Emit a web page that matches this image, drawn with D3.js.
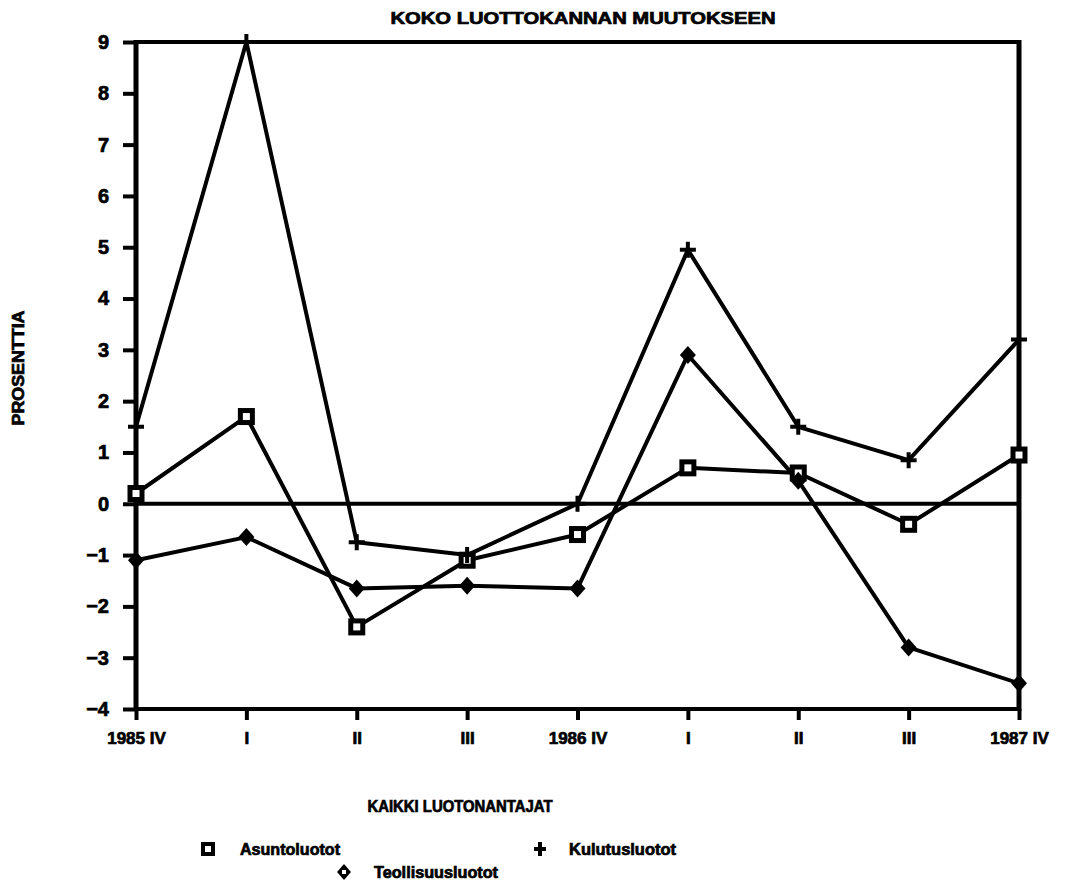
<!DOCTYPE html>
<html>
<head>
<meta charset="utf-8">
<script src="https://cdn.jsdelivr.net/npm/d3@7"></script>
<style>
  body { margin: 0; background: #fff; }
  text { font-family: "Liberation Sans", Arial, sans-serif; font-weight: bold; fill: #000; stroke: #000; stroke-width: 0.7px; }
</style>
</head>
<body>
<div id="chart"></div>
<script>
// Quarter labels along the x axis
var quarters = ["1985 IV", "I", "II", "III", "1986 IV", "I", "II", "III", "1987 IV"];
// Series values (percent)
var asuntoluotot = [0.2, 1.7, -2.4, -1.1, -0.6, 0.7, 0.6, -0.4, 0.95];
var kulutusluotot = [1.5, 9.0, -0.75, -1.0, 0.0, 4.95, 1.5, 0.85, 3.2];
var teollisuusluotot = [-1.1, -0.65, -1.65, -1.6, -1.65, 2.9, 0.45, -2.8, -3.5];
var yTicks = [-4, -3, -2, -1, 0, 1, 2, 3, 4, 5, 6, 7, 8, 9];

var W = 1067, H = 890;
var margin = {top: 42, right: 48, bottom: 181, left: 136},
    width = W - margin.left - margin.right,
    height = H - margin.top - margin.bottom;

var svg = d3.select("#chart").append("svg")
    .attr("width", W).attr("height", H);

var g = svg.append("g")
    .attr("transform", "translate(" + margin.left + "," + margin.top + ")");

// Scales
var x = d3.scalePoint()
    .domain(d3.range(quarters.length))
    .range([0, width]);

var y = d3.scaleLinear()
    .domain([-4, 9])
    .range([height, 0]);

// Y axis (ticks pointing out of the frame)
var yAxis = g.append("g")
    .call(d3.axisLeft(y).tickValues(yTicks).tickSize(13).tickPadding(14)
        .tickFormat(d => d < 0 ? "\u2212" + Math.abs(d) : d));
yAxis.select(".domain").remove();
yAxis.selectAll("line").attr("stroke", "#000").attr("stroke-width", 4);
yAxis.selectAll("text").style("font-size", "20px").style("font-family", "Liberation Sans, Arial").style("font-weight", "bold");

// X axis
var xAxis = g.append("g")
    .attr("transform", "translate(0," + height + ")")
    .call(d3.axisBottom(x).tickSize(11).tickPadding(12).tickFormat(i => quarters[i]));
xAxis.select(".domain").remove();
xAxis.selectAll("line").attr("stroke", "#000").attr("stroke-width", 4);
xAxis.selectAll("text").style("font-size", "17px").style("font-family", "Liberation Sans, Arial").style("font-weight", "bold");

// Frame
g.append("line").attr("x1", 0).attr("x2", width).attr("y1", 0).attr("y2", 0)
    .attr("stroke", "#000").attr("stroke-width", 4);
g.append("line").attr("x1", 0).attr("x2", width).attr("y1", height).attr("y2", height)
    .attr("stroke", "#000").attr("stroke-width", 4);
g.append("line").attr("x1", 0).attr("x2", 0).attr("y1", -2).attr("y2", height + 2)
    .attr("stroke", "#000").attr("stroke-width", 5);
g.append("line").attr("x1", width).attr("x2", width).attr("y1", -2).attr("y2", height + 2)
    .attr("stroke", "#000").attr("stroke-width", 5);

// Zero line
g.append("line").attr("x1", 0).attr("x2", width).attr("y1", y(0)).attr("y2", y(0))
    .attr("stroke", "#000").attr("stroke-width", 4);

var line = d3.line()
    .x((d, i) => x(i))
    .y(d => y(d));

var series = [
    {name: "Asuntoluotot", values: asuntoluotot, marker: "square"},
    {name: "Kulutusluotot", values: kulutusluotot, marker: "plus"},
    {name: "Teollisuusluotot", values: teollisuusluotot, marker: "diamond"}
];

function drawMarker(sel, type) {
    if (type === "square") {
        sel.append("rect").attr("x", -6).attr("y", -6).attr("width", 12).attr("height", 12)
            .attr("fill", "#fff").attr("stroke", "#000").attr("stroke-width", 5);
    } else if (type === "plus") {
        sel.append("path").attr("d", "M-8,0H8M0,-8V8")
            .attr("stroke", "#000").attr("stroke-width", 4).attr("fill", "none");
    } else {
        sel.append("path").attr("d", "M0,-9L8,0L0,9L-8,0Z")
            .attr("fill", "#000");
    }
}

series.forEach(function(s) {
    g.append("path")
        .datum(s.values)
        .attr("fill", "none")
        .attr("stroke", "#000")
        .attr("stroke-width", 4)
        .attr("stroke-linejoin", "round")
        .attr("d", line);
});

series.forEach(function(s) {
    g.selectAll(null)
        .data(s.values)
        .enter().append("g")
        .attr("transform", (d, i) => "translate(" + x(i) + "," + y(d) + ")")
        .each(function() { drawMarker(d3.select(this), s.marker); });
});

// Title
svg.append("text")
    .attr("x", 583).attr("y", 24)
    .attr("text-anchor", "middle")
    .attr("textLength", 385).attr("lengthAdjust", "spacingAndGlyphs")
    .style("font-size", "16px")
    .text("KOKO LUOTTOKANNAN MUUTOKSEEN");

// Y axis label
svg.append("text")
    .attr("transform", "translate(24,368) rotate(-90)")
    .attr("text-anchor", "middle")
    .attr("textLength", 115).attr("lengthAdjust", "spacingAndGlyphs")
    .style("font-size", "16px")
    .text("PROSENTTIA");

// X axis label
svg.append("text")
    .attr("x", 460).attr("y", 812)
    .attr("text-anchor", "middle")
    .attr("textLength", 185).attr("lengthAdjust", "spacingAndGlyphs")
    .style("font-size", "16px")
    .text("KAIKKI LUOTONANTAJAT");

// Legend
var legend = svg.append("g");
var legendItems = [
    {name: "Asuntoluotot", marker: "square", mx: 208, my: 849, tx: 240, len: 100},
    {name: "Kulutusluotot", marker: "plus", mx: 540, my: 849, tx: 569, len: 107},
    {name: "Teollisuusluotot", marker: "diamond", mx: 344, my: 872, tx: 374, len: 124}
];
legendItems.forEach(function(it) {
    var m = legend.append("g").attr("transform", "translate(" + it.mx + "," + it.my + ")");
    if (it.marker === "square") {
        m.append("rect").attr("x", -5).attr("y", -5).attr("width", 10).attr("height", 10)
            .attr("fill", "#fff").attr("stroke", "#000").attr("stroke-width", 4);
    } else if (it.marker === "plus") {
        m.append("path").attr("d", "M-6,0H6M0,-7V7")
            .attr("stroke", "#000").attr("stroke-width", 4);
    } else {
        m.append("path").attr("d", "M0,-8L7,0L0,8L-7,0Z").attr("fill", "#000");
        m.append("rect").attr("x", -2).attr("y", -2).attr("width", 4).attr("height", 4).attr("fill", "#fff");
    }
    legend.append("text")
        .attr("x", it.tx).attr("y", it.my + 6)
        .attr("textLength", it.len).attr("lengthAdjust", "spacingAndGlyphs")
        .style("font-size", "16px")
        .text(it.name);
});
</script>
</body>
</html>
